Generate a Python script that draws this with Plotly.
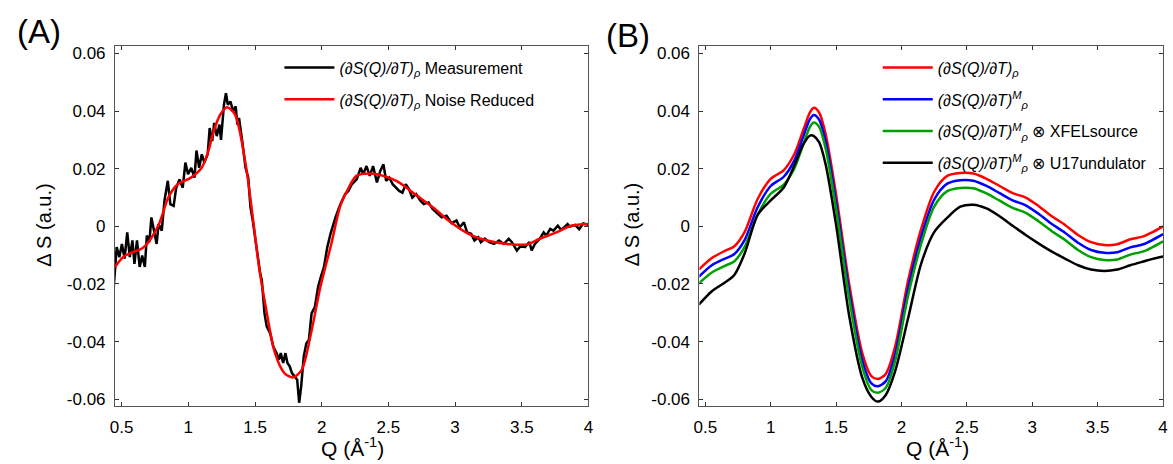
import plotly.graph_objects as go

# ---------------- Panel (A) data ----------------
q_meas = [0.441, 0.463, 0.483, 0.502, 0.522, 0.542, 0.561, 0.581, 0.596, 0.615, 0.635, 0.654, 0.674, 0.689,
          0.708, 0.723, 0.743, 0.762, 0.777, 0.801, 0.821, 0.846, 0.865, 0.890, 0.909, 0.934, 0.958, 0.978,
          0.998, 1.022, 1.046, 1.061, 1.081, 1.101, 1.120, 1.145, 1.160, 1.179, 1.194, 1.213, 1.233, 1.245,
          1.267, 1.282, 1.296, 1.316, 1.336, 1.355, 1.368, 1.380, 1.404, 1.429, 1.449, 1.466, 1.483, 1.502,
          1.522, 1.539, 1.551, 1.571, 1.588, 1.613, 1.637, 1.662, 1.679, 1.693, 1.711, 1.728, 1.743, 1.760,
          1.777, 1.796, 1.816, 1.831, 1.846, 1.865, 1.885, 1.904, 1.924, 1.949, 1.973, 1.993, 2.017, 2.042,
          2.066, 2.103, 2.140, 2.176, 2.200, 2.226, 2.262, 2.292, 2.311, 2.336, 2.360, 2.385, 2.414, 2.439,
          2.463, 2.483, 2.507, 2.532, 2.556, 2.581, 2.605, 2.630, 2.654, 2.679, 2.708, 2.740, 2.765, 2.801,
          2.831, 2.863, 2.900, 2.936, 2.973, 3.010, 3.035, 3.066, 3.090, 3.120, 3.145, 3.174, 3.193, 3.223,
          3.255, 3.292, 3.329, 3.366, 3.402, 3.426, 3.463, 3.493, 3.524, 3.557, 3.574, 3.598, 3.635, 3.664,
          3.684, 3.713, 3.738, 3.770, 3.794, 3.819, 3.843, 3.860, 3.900, 3.930, 3.960, 4.000]
s_meas = [-0.0210, -0.0072, -0.0107, -0.0061, -0.0112, -0.0021, -0.0107, -0.0049, -0.0130, -0.0049, -0.0141,
          -0.0101, -0.0141, -0.0032, -0.0055, 0.0031, -0.0015, -0.0061, 0.0008, -0.0015, 0.0089, 0.0158,
          0.0077, 0.0071, 0.0134, 0.0163, 0.0134, 0.0221, 0.0181, 0.0203, 0.0169, 0.0263, 0.0203, 0.0250,
          0.0221, 0.0250, 0.0341, 0.0296, 0.0359, 0.0313, 0.0353, 0.0300, 0.0422, 0.0462, 0.0422, 0.0433,
          0.0399, 0.0416, 0.0353, 0.0376, 0.0296, 0.0203, 0.0169, 0.0066, 0.0020, -0.0049, -0.0118, -0.0164,
          -0.0187, -0.0302, -0.0348, -0.0371, -0.0417, -0.0440, -0.0463, -0.0440, -0.0474, -0.0440, -0.0474,
          -0.0486, -0.0509, -0.0520, -0.0532, -0.0612, -0.0555, -0.0452, -0.0406, -0.0394, -0.0302, -0.0279,
          -0.0210, -0.0176, -0.0141, -0.0072, -0.0026, 0.0031, 0.0077, 0.0112, 0.0123, 0.0146, 0.0163, 0.0203,
          0.0181, 0.0209, 0.0175, 0.0209, 0.0152, 0.0192, 0.0215, 0.0158, 0.0169, 0.0146, 0.0134, 0.0123,
          0.0117, 0.0146, 0.0129, 0.0100, 0.0112, 0.0089, 0.0077, 0.0083, 0.0060, 0.0048, 0.0031, 0.0037,
          0.0011, 0.0020, -0.0003, 0.0014, -0.0021, -0.0026, -0.0049, -0.0038, -0.0055, -0.0043, -0.0055,
          -0.0061, -0.0049, -0.0061, -0.0043, -0.0055, -0.0084, -0.0067, -0.0072, -0.0055, -0.0084, -0.0061,
          -0.0043, -0.0021, -0.0032, -0.0009, -0.0015, 0.0002, -0.0012, -0.0003, 0.0008, -0.0001, 0.0005,
          -0.0010, 0.0010, 0.0005]

q_red_a = [0.45, 0.51, 0.58, 0.65, 0.70, 0.78, 0.85, 0.92, 1.02, 1.10, 1.15, 1.19, 1.24, 1.29, 1.35, 1.43,
           1.48, 1.53, 1.58, 1.65, 1.72, 1.785, 1.85, 1.92, 1.99, 2.07, 2.14, 2.19, 2.26, 2.36, 2.46, 2.56,
           2.65, 2.75, 2.85, 2.95, 3.10, 3.24, 3.39, 3.54, 3.63, 3.76, 3.87, 4.00]
s_red_a = [-0.0141, -0.0107, -0.0090, -0.0078, -0.0055, 0.0008, 0.0100, 0.0146, 0.0169, 0.0203, 0.0261,
           0.0330, 0.0388, 0.0413, 0.0388, 0.0215, 0.0043, -0.0141, -0.0279, -0.0440, -0.0509, -0.0524,
           -0.0498, -0.0371, -0.0210, -0.0065, 0.0072, 0.0123, 0.0175, 0.0183, 0.0175, 0.0158, 0.0129,
           0.0094, 0.0060, 0.0020, -0.0026, -0.0049, -0.0061, -0.0063, -0.0044, -0.0021, 0.0002, 0.0008]

# ---------------- Panel (B) data ----------------
q_b = [0.45, 0.55, 0.65, 0.72, 0.80, 0.90, 1.00, 1.10, 1.18, 1.25, 1.30, 1.33, 1.37, 1.42, 1.50, 1.60, 1.70,
       1.77, 1.82, 1.88, 1.95, 2.05, 2.15, 2.25, 2.35, 2.45, 2.55, 2.65, 2.75, 2.85, 2.95, 3.05, 3.15, 3.25,
       3.35, 3.45, 3.55, 3.65, 3.75, 3.85, 3.92, 4.00]
s_b_red = [-0.0150, -0.0110, -0.0085, -0.0070, -0.0020, 0.0095, 0.0165, 0.0195, 0.0250, 0.0335, 0.0395,
           0.0411, 0.0395, 0.0320, 0.0110, -0.0200, -0.0440, -0.0520, -0.0530, -0.0512, -0.0420, -0.0190,
           -0.0010, 0.0120, 0.0175, 0.0185, 0.0183, 0.0165, 0.0140, 0.0115, 0.0100, 0.0070, 0.0035, 0.0005,
           -0.0030, -0.0055, -0.0065, -0.0062, -0.0045, -0.0035, -0.0020, 0.0000]
s_b_blue = [-0.0175, -0.0135, -0.0112, -0.0097, -0.0048, 0.0066, 0.0140, 0.0172, 0.0228, 0.0312, 0.0372,
            0.0386, 0.0370, 0.0295, 0.0085, -0.0225, -0.0465, -0.0545, -0.0555, -0.0537, -0.0447, -0.0217,
            -0.0037, 0.0093, 0.0148, 0.0160, 0.0158, 0.0140, 0.0115, 0.0090, 0.0073, 0.0043, 0.0008, -0.0022,
            -0.0057, -0.0082, -0.0092, -0.0090, -0.0073, -0.0062, -0.0047, -0.0027]
s_b_green = [-0.0198, -0.0160, -0.0137, -0.0122, -0.0072, 0.0040, 0.0113, 0.0145, 0.0200, 0.0285, 0.0345,
             0.0360, 0.0345, 0.0270, 0.0060, -0.0250, -0.0488, -0.0568, -0.0577, -0.0560, -0.0470, -0.0242,
             -0.0062, 0.0068, 0.0122, 0.0133, 0.0132, 0.0114, 0.0089, 0.0064, 0.0047, 0.0017, -0.0017,
             -0.0047, -0.0082, -0.0107, -0.0117, -0.0115, -0.0098, -0.0087, -0.0072, -0.0052]
s_b_black = [-0.0272, -0.0225, -0.0195, -0.0170, -0.0095, 0.0040, 0.0090, 0.0135, 0.0210, 0.0285, 0.0315,
             0.0313, 0.0292, 0.0215, 0.0005, -0.0310, -0.0525, -0.0592, -0.0608, -0.0585, -0.0505, -0.0320,
             -0.0130, -0.0020, 0.0030, 0.0068, 0.0075, 0.0062, 0.0035, 0.0002, -0.0030, -0.0060, -0.0088,
             -0.0112, -0.0135, -0.0150, -0.0155, -0.0150, -0.0135, -0.0122, -0.0113, -0.0105]

x_tickvals = [0.5, 1, 1.5, 2, 2.5, 3, 3.5, 4]
x_ticktext = ["0.5", "1", "1.5", "2", "2.5", "3", "3.5", "4"]
y_tickvals = [-0.06, -0.04, -0.02, 0, 0.02, 0.04, 0.06]
y_ticktext = ["-0.06", "-0.04", "-0.02", "0", "0.02", "0.04", "0.06"]

D = "<i>(∂S(Q)/∂T)</i>"
names_a = [D + "<sub><i>ρ</i></sub> Measurement", D + "<sub><i>ρ</i></sub> Noise Reduced"]
names_b = [D + "<sub><i>ρ</i></sub>",
           D + "<sup><i>M</i></sup><sub><i>ρ</i></sub>",
           D + "<sup><i>M</i></sup><sub><i>ρ</i></sub> ⊗ XFELsource",
           D + "<sup><i>M</i></sup><sub><i>ρ</i></sub> ⊗ U17undulator"]

W, H = 1173, 464
FONT = "Liberation Sans, Arial, sans-serif"

fig = go.Figure()
fig.add_trace(go.Scatter(x=q_meas, y=s_meas, mode="lines", name=names_a[0], legendgroup="a1",
                         line=dict(color="black", width=2.5), xaxis="x", yaxis="y", legend="legend"))
fig.add_trace(go.Scatter(x=q_red_a, y=s_red_a, mode="lines", name=names_a[1], legendgroup="a2",
                         line=dict(color="#ff0000", width=2.5, shape="spline", smoothing=0.8),
                         xaxis="x", yaxis="y", legend="legend"))

colors_b = ["#ff0000", "#0000ff", "#00a000", "black"]
for i, (s, c, n) in enumerate(zip([s_b_red, s_b_blue, s_b_green, s_b_black], colors_b, names_b)):
    fig.add_trace(go.Scatter(x=q_b, y=s, mode="lines", name=n, legendgroup="b%d" % i,
                             line=dict(color=c, width=2.5, shape="spline", smoothing=0.8),
                             xaxis="x2", yaxis="y2", legend="legend2"))

ydom = [1 - 409 / H, 1 - 45 / H]
axis_common = dict(showline=True, linecolor="#555555", linewidth=1, mirror="ticks",
                   ticks="inside", ticklen=4, tickcolor="#333333", showgrid=False, zeroline=False,
                   tickfont=dict(family=FONT, size=17, color="black"))

legend_common = dict(xanchor="left", yanchor="top", bgcolor="rgba(0,0,0,0)",
                     font=dict(family=FONT, size=16, color="black"), itemwidth=50,
                     tracegroupgap=8)

fig.update_layout(
    width=W, height=H,
    margin=dict(l=0, r=0, t=0, b=0),
    paper_bgcolor="white", plot_bgcolor="white",
    font=dict(family=FONT, size=16, color="black"),
    xaxis=dict(domain=[110 / W, 588 / W], range=[0.45, 4.0], tickvals=x_tickvals, ticktext=x_ticktext,
               anchor="y", ticklabelstandoff=5, **axis_common),
    yaxis=dict(domain=ydom, range=[-0.0625, 0.0627], tickvals=y_tickvals, ticktext=y_ticktext,
               anchor="x", ticklabelstandoff=5, **axis_common),
    xaxis2=dict(domain=[700 / W, 1168 / W], range=[0.455, 4.0], tickvals=x_tickvals, ticktext=x_ticktext,
                anchor="y2", ticklabelstandoff=5, **axis_common),
    yaxis2=dict(domain=ydom, range=[-0.0625, 0.0627], tickvals=y_tickvals, ticktext=y_ticktext,
                anchor="x2", ticklabelstandoff=5, **axis_common),
    legend=dict(x=276 / W, y=1 - 50 / H, **legend_common),
    legend2=dict(x=880 / W, y=1 - 50 / H, **legend_common),
    showlegend=True,
)

ann = [
    dict(text="(A)", x=33 / W, y=1 - 31 / H, font=dict(size=33)),
    dict(text="(B)", x=628 / W, y=1 - 35 / H, font=dict(size=33)),
    dict(text="Δ S (a.u.)", x=38 / W, y=1 - 226 / H, textangle=-90, font=dict(size=20)),
    dict(text="Δ S (a.u.)", x=632 / W, y=1 - 226 / H, textangle=-90, font=dict(size=20)),
    dict(text="Q (Å<sup>-1</sup>)", x=350 / W, y=1 - 450 / H, font=dict(size=21)),
    dict(text="Q (Å<sup>-1</sup>)", x=940 / W, y=1 - 450 / H, font=dict(size=21)),
]
for a in ann:
    fig.add_annotation(xref="paper", yref="paper", xanchor="center", yanchor="middle",
                       showarrow=False, **a)

fig.write_html("out.html", config={"displayModeBar": False},
               post_script="document.body.style.margin='0';document.body.style.overflow='hidden';")
